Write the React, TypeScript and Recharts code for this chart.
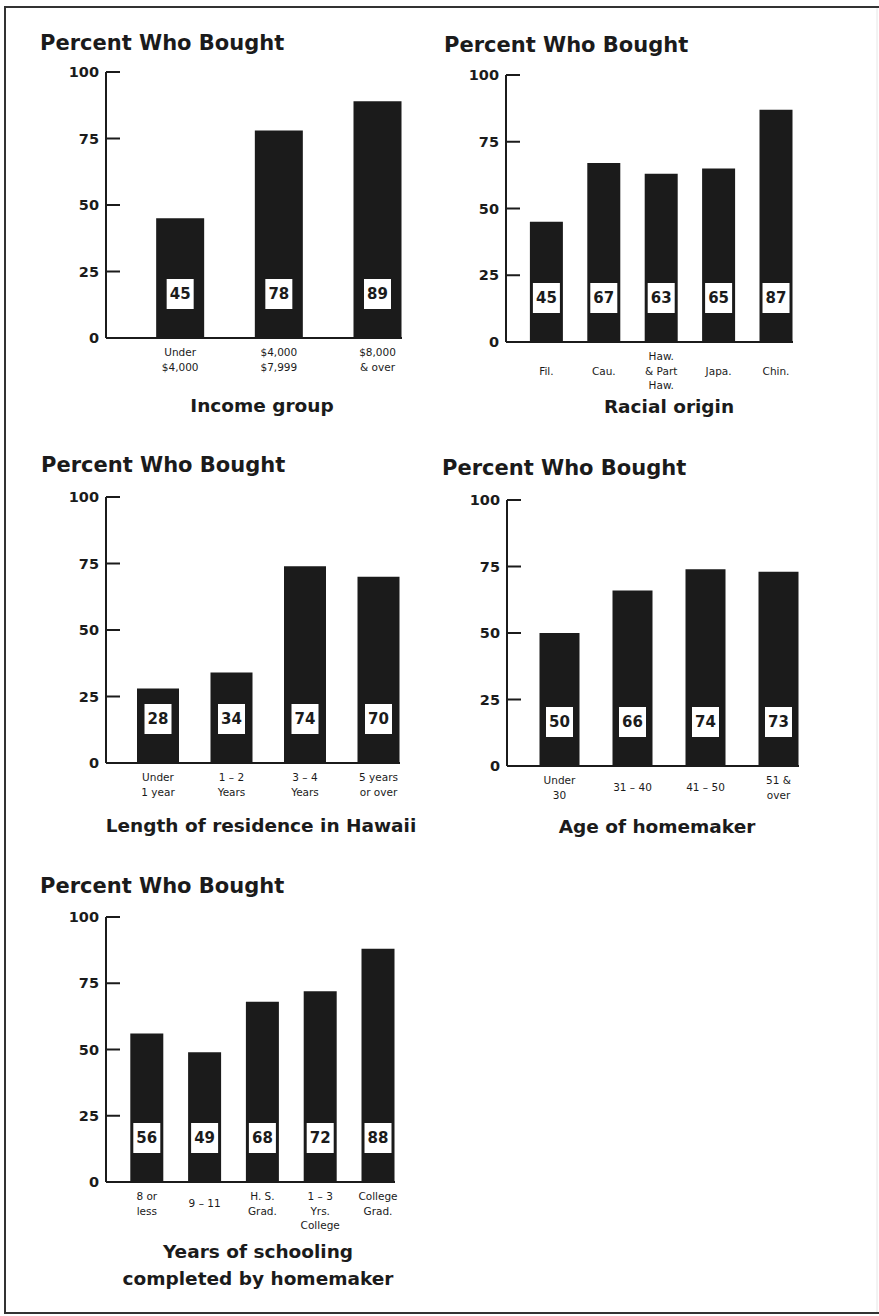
import React from "react";
import { BarChart, Bar, XAxis, YAxis, LabelList } from "recharts";

// Survey results: share of homemakers who bought, by group
const incomeGroups = ["Under\n$4,000", "$4,000\n$7,999", "$8,000\n& over"];
const incomePercent = [45, 78, 89];

const racialOrigins = ["Fil.", "Cau.", "Haw.\n& Part\nHaw.", "Japa.", "Chin."];
const racialPercent = [45, 67, 63, 65, 87];

const residenceLengths = ["Under\n1 year", "1 – 2\nYears", "3 – 4\nYears", "5 years\nor over"];
const residencePercent = [28, 34, 74, 70];

const homemakerAges = ["Under\n30", "31 – 40", "41 – 50", "51 &\nover"];
const agePercent = [50, 66, 74, 73];

const schoolingLevels = ["8 or\nless", "9 – 11", "H. S.\nGrad.", "1 – 3\nYrs.\nCollege", "College\nGrad."];
const schoolingPercent = [56, 49, 68, 72, 88];

const yTicks = [0, 25, 50, 75, 100];

const INK = "#1b1b1b";
const FONT = "'DejaVu Sans', sans-serif";
const Y_W = 60;
const X_H = 70;
const M_TOP = 12;
const M_RIGHT = 8;

type PanelProps = {
  title: string;
  axisTitle: string[];
  categories: string[];
  values: number[];
  axisX: number;
  top: number;
  bottom: number;
  right: number;
  barWidth: number;
  titleX: number;
  titleY: number;
  axisTitleX: number;
  axisTitleY: number;
  labelRows: number;
};

const panels: PanelProps[] = [
  {
    title: "Percent Who Bought", axisTitle: ["Income group"],
    categories: incomeGroups, values: incomePercent,
    axisX: 106, top: 72, bottom: 338, right: 402, barWidth: 48,
    titleX: 40, titleY: 50, axisTitleX: 262, axisTitleY: 412, labelRows: 2,
  },
  {
    title: "Percent Who Bought", axisTitle: ["Racial origin"],
    categories: racialOrigins, values: racialPercent,
    axisX: 506, top: 75, bottom: 342, right: 793, barWidth: 33,
    titleX: 444, titleY: 52, axisTitleX: 669, axisTitleY: 413, labelRows: 3,
  },
  {
    title: "Percent Who Bought", axisTitle: ["Length of residence in Hawaii"],
    categories: residenceLengths, values: residencePercent,
    axisX: 106, top: 497, bottom: 763, right: 400, barWidth: 42,
    titleX: 41, titleY: 472, axisTitleX: 261, axisTitleY: 832, labelRows: 2,
  },
  {
    title: "Percent Who Bought", axisTitle: ["Age of homemaker"],
    categories: homemakerAges, values: agePercent,
    axisX: 507, top: 500, bottom: 766, right: 799, barWidth: 40,
    titleX: 442, titleY: 475, axisTitleX: 657, axisTitleY: 833, labelRows: 2,
  },
  {
    title: "Percent Who Bought", axisTitle: ["Years of schooling", "completed by homemaker"],
    categories: schoolingLevels, values: schoolingPercent,
    axisX: 106, top: 917, bottom: 1182, right: 395, barWidth: 33,
    titleX: 40, titleY: 893, axisTitleX: 258, axisTitleY: 1258, labelRows: 2,
  },
];

function YTick(props: any) {
  const { x, y, payload } = props;
  return (
    <g>
      <line x1={x} x2={x + 14} y1={y} y2={y} stroke={INK} strokeWidth={2} />
      <text x={x - 7} y={y} dy="0.36em" textAnchor="end" fontFamily={FONT} fontWeight="bold" fontSize={14.5} fill={INK}>
        {payload.value}
      </text>
    </g>
  );
}

function ValueBox(props: any) {
  const { x, y, width, height, value } = props;
  const cx = x + width / 2;
  const cy = y + height - 44;
  return (
    <g>
      <rect x={cx - 13.5} y={cy - 15} width={27} height={30} fill="#fff" />
      <text x={cx} y={cy} dy="0.36em" textAnchor="middle" fontFamily={FONT} fontWeight="bold" fontSize={15} fill={INK}>
        {value}
      </text>
    </g>
  );
}

function CategoryLabel(rows: number) {
  return (props: any) => {
    const { x, y, width, height, value } = props;
    const lines = String(value).split("\n");
    const start = Math.max(0, (rows - lines.length) / 2);
    const cx = x + width / 2;
    const base = y + height + 18;
    return (
      <g>
        {lines.map((line, i) => (
          <text key={i} x={cx} y={base + (start + i) * 14.5} textAnchor="middle" fontFamily={FONT} fontSize={10.5} fill={INK}>
            {line}
          </text>
        ))}
      </g>
    );
  };
}

function Panel(p: PanelProps) {
  // "gap" mirrors the value so an empty slot sits left of each bar
  const data = p.categories.map((category, i) => ({ category, value: p.values[i], gap: p.values[i] }));
  const plotW = p.right - p.axisX;
  const band = plotW / p.categories.length;
  const width = plotW + Y_W + M_RIGHT;
  const height = p.bottom - p.top + M_TOP + X_H;
  return (
    <div style={{ position: "absolute", left: p.axisX - Y_W, top: p.top - M_TOP }}>
      <BarChart
        width={width}
        height={height}
        data={data}
        margin={{ top: M_TOP, right: M_RIGHT, bottom: 0, left: 0 }}
        barGap={0}
        barCategoryGap={0}
      >
        <XAxis dataKey="category" tick={false} tickLine={false} height={X_H} axisLine={{ stroke: INK, strokeWidth: 2 }} />
        <YAxis
          width={Y_W}
          domain={[0, 100]}
          ticks={yTicks}
          interval={0}
          tickSize={0}
          tickMargin={0}
          tickLine={false}
          axisLine={{ stroke: INK, strokeWidth: 2 }}
          tick={<YTick />}
        />
        <Bar dataKey="gap" fill="transparent" barSize={band - p.barWidth - 0.5} isAnimationActive={false} />
        <Bar dataKey="value" fill={INK} barSize={p.barWidth} isAnimationActive={false}>
          <LabelList dataKey="value" content={<ValueBox />} />
          <LabelList dataKey="category" content={CategoryLabel(p.labelRows)} />
        </Bar>
      </BarChart>
    </div>
  );
}

export default function App() {
  return (
    <div style={{ position: "absolute", left: 0, top: 0, width: 879, height: 1316, background: "#fff", overflow: "hidden" }}>
      <svg width={879} height={1316} style={{ position: "absolute", left: 0, top: 0 }}>
        <line x1={5} y1={7} x2={879} y2={7} stroke="#333" strokeWidth={2} />
        <line x1={5} y1={6} x2={5} y2={1314} stroke="#333" strokeWidth={2} />
        <line x1={4} y1={1313} x2={879} y2={1313} stroke="#333" strokeWidth={2} />
        <line x1={877} y1={8} x2={877} y2={1312} stroke="#e6e6e6" strokeWidth={1} />
        {panels.map((p, i) => (
          <g key={i} fontFamily={FONT} fontWeight="bold" fill={INK}>
            <text x={p.titleX} y={p.titleY} fontSize={21}>{p.title}</text>
            {p.axisTitle.map((t, j) => (
              <text key={j} x={p.axisTitleX} y={p.axisTitleY + j * 27} fontSize={18.5} textAnchor="middle">{t}</text>
            ))}
          </g>
        ))}
      </svg>
      {panels.map((p, i) => (
        <Panel key={i} {...p} />
      ))}
    </div>
  );
}
